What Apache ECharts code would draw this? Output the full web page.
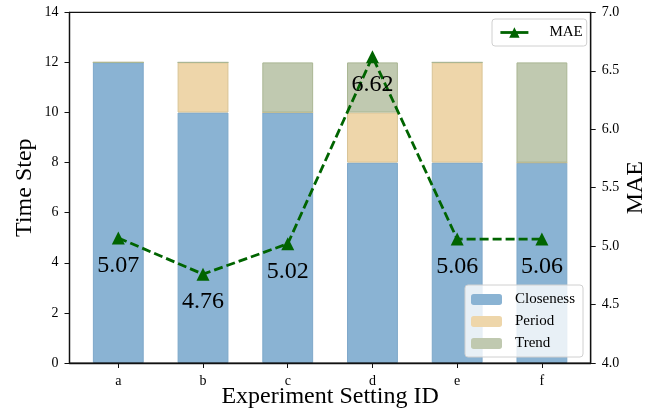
<!DOCTYPE html>
<html>
<head>
<meta charset="utf-8">
<script src="https://cdn.jsdelivr.net/npm/echarts@6/dist/echarts.min.js"></script>
<style>html,body{margin:0;padding:0;background:#fff}#c{width:656px;height:416px}</style>
</head>
<body>
<div id="c"></div>
<script>
const categories = ['a', 'b', 'c', 'd', 'e', 'f'];
const closeness = [12, 10, 10, 8, 8, 8];
const period = [0, 2, 0, 2, 4, 0];
const trend = [0, 0, 2, 2, 0, 4];
const mae = [5.07, 4.76, 5.02, 6.62, 5.06, 5.06];
const leftTicks = [0, 2, 4, 6, 8, 10, 12, 14];
const rightTicks = [4.0, 4.5, 5.0, 5.5, 6.0, 6.5, 7.0];

const FONT = 'Liberation Serif';
const idx = categories.map((_, i) => i);
// value first, category position second (so the value column is the stacked one)
const pts = arr => arr.map((v, i) => [v, i]);

const chart = echarts.init(document.getElementById('c'), null, {renderer: 'canvas'});

function barSeries(name, data, color, border) {
  return {
    name, type: 'bar', stack: 'total', data: pts(data),
    encode: {x: 1, y: 0},
    xAxisIndex: 0, yAxisIndex: 0, barWidth: '60%',
    itemStyle: {color, borderColor: border, borderWidth: 1},
    emphasis: {disabled: true}, z: 2
  };
}

chart.setOption({
  animation: false,
  textStyle: {fontFamily: FONT},
  grid: {left: 69.5, right: 65.3, top: 12.3, bottom: 53, show: true, outerBoundsMode: 'none', containLabel: false,
    borderColor: '#111', borderWidth: 1.2, backgroundColor: 'transparent', z: 5},
  xAxis: [{
    type: 'value', min: -0.576, max: 5.576, z: 10,
    name: 'Experiment Setting ID', nameLocation: 'middle', nameGap: 22, nameMoveOverlap: false,
    nameTextStyle: {fontFamily: FONT, fontSize: 24, color: '#000'},
    axisLine: {show: true, onZero: false, lineStyle: {color: '#111', width: 1.3}},
    axisTick: {show: true, length: 5, customValues: idx, lineStyle: {color: '#111', width: 1}},
    axisLabel: {customValues: idx, margin: 11, fontFamily: FONT, fontSize: 14, color: '#000',
      formatter: v => categories[Math.round(v)] || ''},
    splitLine: {show: false}
  }],
  yAxis: [{
    type: 'value', min: leftTicks[0], max: leftTicks[leftTicks.length - 1], interval: 2,
    name: 'Time Step', nameLocation: 'middle', nameGap: 33, nameRotate: 90, nameMoveOverlap: false,
    nameTextStyle: {fontFamily: FONT, fontSize: 24, color: '#000'},
    axisLine: {show: true, onZero: false, lineStyle: {color: '#111', width: 1.3}},
    axisTick: {show: true, length: 5, lineStyle: {color: '#111', width: 1}},
    axisLabel: {margin: 11, fontFamily: FONT, fontSize: 14, color: '#000'},
    splitLine: {show: false}, z: 10
  }, {
    type: 'value', position: 'right', min: rightTicks[0], max: rightTicks[rightTicks.length - 1], interval: 0.5,
    name: 'MAE', nameLocation: 'middle', nameGap: 33, nameRotate: 90, nameMoveOverlap: false,
    nameTextStyle: {fontFamily: FONT, fontSize: 24, color: '#000'},
    axisLine: {show: true, onZero: false, lineStyle: {color: '#111', width: 1.3}},
    axisTick: {show: true, length: 5, lineStyle: {color: '#111', width: 1}},
    axisLabel: {margin: 11, fontFamily: FONT, fontSize: 14, color: '#000', formatter: v => v.toFixed(1)},
    splitLine: {show: false}, z: 10
  }],
  legend: [{
    data: ['Closeness', 'Period', 'Trend'], orient: 'vertical', left: 465, top: 285,
    itemWidth: 31, itemHeight: 11, itemGap: 7, padding: [7, 8, 6, 6],
    backgroundColor: 'rgba(255,255,255,0.8)', borderColor: '#d0d0d0', borderWidth: 1, borderRadius: 3,
    itemStyle: {borderWidth: 0},
    textStyle: {fontFamily: FONT, fontSize: 15, color: '#000', lineHeight: 15, padding: [0, 0, 0, 8]},
    selectedMode: false, z: 20
  }, {
    data: ['MAE'], orient: 'vertical', left: 492, top: 19,
    itemWidth: 28, itemHeight: 13, padding: [6, 4, 6, 7],
    backgroundColor: 'rgba(255,255,255,0.8)', borderColor: '#d0d0d0', borderWidth: 1, borderRadius: 3,
    lineStyle: {type: 'solid', width: 2.8},
    textStyle: {fontFamily: FONT, fontSize: 15, color: '#000', padding: [0, 0, 0, 16]},
    selectedMode: false, z: 20
  }],
  series: [
    barSeries('Closeness', closeness, '#8ab3d3', '#7ea8ca'),
    barSeries('Period', period, '#eed6aa', '#d9c496'),
    barSeries('Trend', trend, '#c0c9b0', '#a9b693'),
    {
      name: 'MAE', type: 'line', data: pts(mae), encode: {x: 1, y: 0}, xAxisIndex: 0, yAxisIndex: 1,
      symbol: 'triangle', symbolSize: 13, z: 8,
      itemStyle: {color: '#006400'},
      lineStyle: {color: '#006400', width: 2.8, type: [9, 4]},
      label: {show: true, position: 'bottom', distance: 9, fontFamily: FONT, fontSize: 24, color: '#000',
        formatter: p => p.value[0].toFixed(2)},
      emphasis: {disabled: true}
    }
  ]
});
</script>
</body>
</html>
